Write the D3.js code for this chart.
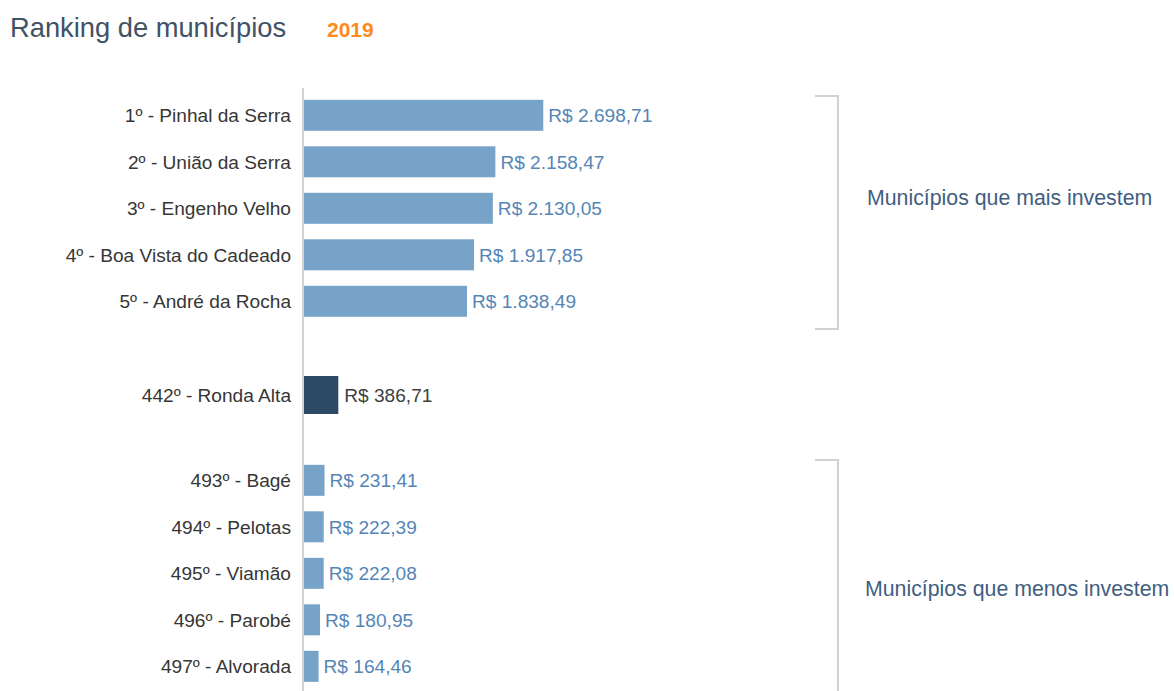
<!DOCTYPE html>
<html lang="pt-BR">
<head>
<meta charset="utf-8">
<title>Ranking de municípios 2019</title>
<script src="https://cdn.jsdelivr.net/npm/d3@7"></script>
<style>
  html, body { margin: 0; padding: 0; background: #ffffff; }
  svg { display: block; font-family: "Liberation Sans", Arial, Helvetica, sans-serif; }
</style>
</head>
<body>
<svg id="chart" width="1174" height="691"></svg>
<script>
// Investimento por habitante (R$), 2019
const topNames = ["1º - Pinhal da Serra", "2º - União da Serra", "3º - Engenho Velho", "4º - Boa Vista do Cadeado", "5º - André da Rocha"];
const topValues = [2698.71, 2158.47, 2130.05, 1917.85, 1838.49];

const highlightNames = ["442º - Ronda Alta"];
const highlightValues = [386.71];

const bottomNames = ["493º - Bagé", "494º - Pelotas", "495º - Viamão", "496º - Parobé", "497º - Alvorada"];
const bottomValues = [231.41, 222.39, 222.08, 180.95, 164.46];

const groupLabels = ["Municípios que mais investem", "Municípios que menos investem"];
const titleText = "Ranking de municípios";
const yearText = "2019";

const svg = d3.select("#chart");
const W = 1174, H = 691;

// layout: three groups stacked vertically, with the highlighted row between them
const groups = [
  { names: topNames, values: topValues, start: 0, highlight: false },
  { names: highlightNames, values: highlightValues, start: 6.015, highlight: true },
  { names: bottomNames, values: bottomValues, start: 7.85, highlight: false }
];

const rows = [];
groups.forEach(g => {
  g.names.forEach((n, i) => rows.push({ name: n, value: g.values[i], slot: g.start + i, highlight: g.highlight }));
});

const x = d3.scaleLinear().domain([0, 3000]).range([304, 570]);
const y = d3.scaleLinear().domain([0, 1]).range([115.3, 161.8]);

const barH = 31, barHHighlight = 38;
const colBar = "#77a3c8", colBarDark = "#2c4a66";
const colValue = "#5585b5", colLabel = "#363636";
const colRule = "#d2d2d2";
const fs = 19.1;

// title
svg.append("text")
  .attr("x", 10).attr("y", 37)
  .attr("font-size", 27.3)
  .attr("fill", "#3f5266")
  .text(titleText);
svg.append("text")
  .attr("x", 327).attr("y", 37)
  .attr("font-size", 21)
  .attr("font-weight", "bold")
  .attr("fill", "#ff8a1c")
  .text(yearText);

// baseline of the bars
svg.append("line")
  .attr("x1", 303).attr("x2", 303)
  .attr("y1", 88).attr("y2", H)
  .attr("stroke", colRule).attr("stroke-width", 2);

const row = svg.append("g").selectAll("g").data(rows).join("g");

row.append("rect")
  .attr("x", x(0))
  .attr("y", d => y(d.slot) - (d.highlight ? barHHighlight : barH) / 2)
  .attr("width", d => x(d.value) - x(0))
  .attr("height", d => d.highlight ? barHHighlight : barH)
  .attr("fill", d => d.highlight ? colBarDark : colBar);

row.append("text")
  .attr("x", 291)
  .attr("y", d => y(d.slot))
  .attr("dy", "0.36em")
  .attr("text-anchor", "end")
  .attr("font-size", fs)
  .attr("fill", colLabel)
  .text(d => d.name);

const fmt = d3.formatLocale({ decimal: ",", thousands: ".", grouping: [3], currency: ["R$ ", ""] }).format("$,.2f");

row.append("text")
  .attr("x", d => x(d.value) + (d.highlight ? 6 : 5))
  .attr("y", d => y(d.slot))
  .attr("dy", "0.36em")
  .attr("font-size", fs)
  .attr("fill", d => d.highlight ? "#404040" : colValue)
  .text(d => fmt(d.value));

// group brackets and captions
const brackets = [
  { top: 96, bottom: 329, closed: true, label: groupLabels[0], labelX: 867, labelY: 197 },
  { top: 460, bottom: H, closed: false, label: groupLabels[1], labelX: 865, labelY: 588 }
];
const bx = 838, bxl = 815;
brackets.forEach(b => {
  const p = d3.path();
  p.moveTo(bxl, b.top);
  p.lineTo(bx, b.top);
  p.lineTo(bx, b.bottom);
  if (b.closed) p.lineTo(bxl, b.bottom);
  svg.append("path")
    .attr("d", p.toString())
    .attr("fill", "none")
    .attr("stroke", colRule)
    .attr("stroke-width", 2);
  svg.append("text")
    .attr("x", b.labelX).attr("y", b.labelY)
    .attr("dy", "0.36em")
    .attr("font-size", 21.3)
    .attr("fill", "#3f5e80")
    .text(b.label);
});
</script>
</body>
</html>
